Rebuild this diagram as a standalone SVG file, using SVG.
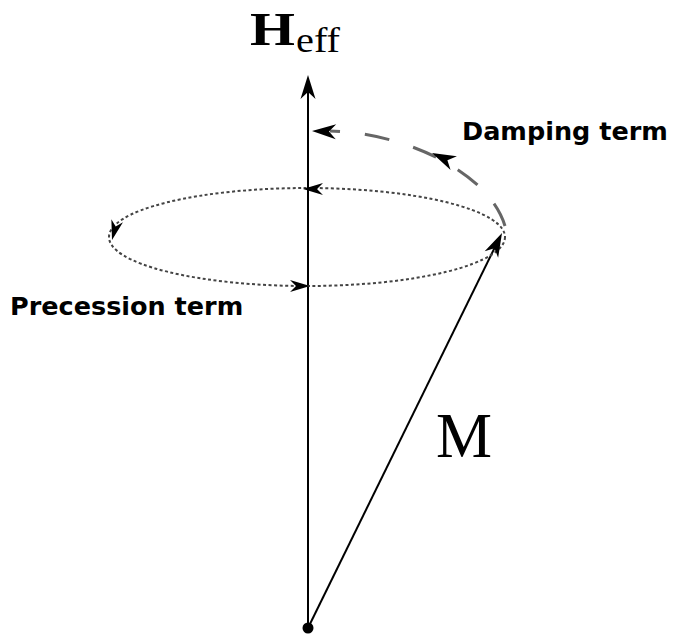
<svg xmlns="http://www.w3.org/2000/svg" xmlns:xlink="http://www.w3.org/1999/xlink" width="675" height="637" viewBox="0 0 675 637">
<style>
.axis{stroke:#000;stroke-width:2;fill:none}
.prec{stroke:#444;stroke-width:2;fill:none;stroke-dasharray:3 2.5}
.damp{stroke:#666;stroke-width:3;fill:none;stroke-dasharray:25 25}
.lbl{font-family:"DejaVu Sans",sans-serif;font-weight:bold;font-size:25.5px;fill:#000}
.math{font-family:"Liberation Serif","DejaVu Serif",serif;fill:#000}
</style>
<defs>
<path id="ah" d="M0,0 L-24,-7.5 L-17,0 L-24,7.5 Z" fill="#000"/>
<path id="ahs" d="M0,0 L-20,-6 L-14,0 L-20,6 Z" fill="#000"/>
</defs>
<rect width="675" height="637" fill="#fff"/>
<g id="connectors">
<line class="axis" x1="308" y1="628" x2="308" y2="90"/>
<line class="axis" x1="308" y1="628" x2="496" y2="245"/>
<ellipse class="prec" cx="307" cy="237" rx="198" ry="49"/>
<path class="damp" d="M505,226 C488,170 400,132 330,131"/>
<use xlink:href="#ah" transform="translate(308,75) rotate(-90)"/>
<use xlink:href="#ah" transform="translate(502,233) rotate(-63.8)"/>
<use xlink:href="#ah" transform="translate(312,131) rotate(182)"/>
<use xlink:href="#ah" transform="translate(432,153) rotate(205)"/>
<use xlink:href="#ahs" transform="translate(303,189) rotate(180)"/>
<use xlink:href="#ahs" transform="translate(112,240) rotate(105)"/>
<use xlink:href="#ahs" transform="translate(310,286) rotate(0)"/>
</g>
<g id="origin"><circle cx="308" cy="628" r="5.5" fill="#000"/></g>
<g id="heff">
<text class="math" x="250" y="45" font-size="47" font-weight="bold" textLength="45" lengthAdjust="spacingAndGlyphs">H</text>
<text class="math" x="296" y="52" font-size="35" textLength="44" lengthAdjust="spacingAndGlyphs">eff</text>
</g>
<g id="m"><text class="math" x="436" y="457" font-size="63">M</text></g>
<g id="damping"><text class="lbl" x="462" y="140">Damping term</text></g>
<g id="precession"><text class="lbl" x="10" y="315">Precession term</text></g>
</svg>
